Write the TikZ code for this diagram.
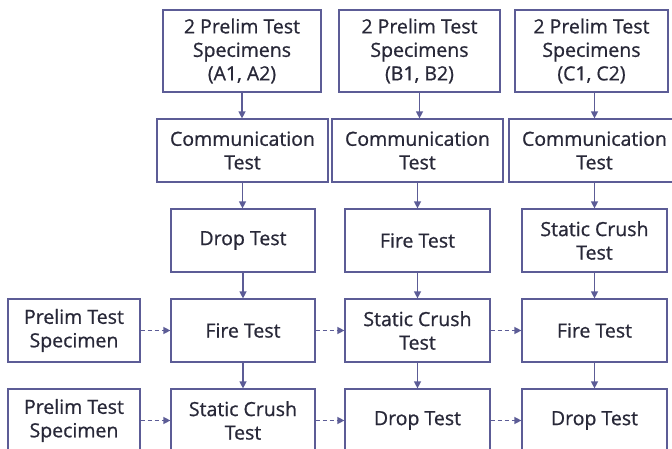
\documentclass[tikz,border=0pt]{standalone}
\usepackage{fontspec}
\setmainfont{Open Sans}
\newfontfamily\boxfont{Open Sans}[FakeBold=0.8]
\usetikzlibrary{arrows.meta}
\definecolor{bordc}{RGB}{92,92,150}
\definecolor{txtc}{RGB}{40,40,56}
\tikzset{
  box/.style={draw=bordc, line width=1.2pt, rectangle, inner sep=0pt, align=center,
    text=txtc, font=\boxfont\fontsize{19.5}{23.5}\selectfont},
  flow/.style={draw=bordc, line width=1.3pt, -{Triangle[length=7pt,width=7pt]}},
  dflow/.style={flow, dash pattern=on 4pt off 3pt}
}
\begin{document}
\begin{tikzpicture}[x=1pt,y=-1pt]
\useasboundingbox (0,0) rectangle (672,449);
\clip (0,0) rectangle (672,449);
% row 1
\node[box, minimum width=158pt, minimum height=82pt] (a1) at (242,51) {2 Prelim Test\\Specimens\\(A1, A2)};
\node[box, minimum width=161pt, minimum height=82pt] (b1) at (419.5,51) {2 Prelim Test\\Specimens\\(B1, B2)};
\node[box, minimum width=153pt, minimum height=82pt] (c1) at (591.5,51) {2 Prelim Test\\Specimens\\(C1, C2)};
% row 2
\node[box, minimum width=171pt, minimum height=63pt] (a2) at (242.5,150.5) {Communication\\Test};
\node[box, minimum width=171pt, minimum height=63pt] (b2) at (417.5,150.5) {Communication\\Test};
\node[box, minimum width=171pt, minimum height=63pt] (c2) at (594.5,150.5) {Communication\\Test};
% row 3
\node[box, minimum width=144pt, minimum height=63pt] (a3) at (243,240.5) {Drop Test};
\node[box, minimum width=145pt, minimum height=63pt] (b3) at (417.5,240.5) {Fire Test};
\node[box, minimum width=145pt, minimum height=63pt] (c3) at (594.5,240.5) {Static Crush\\Test};
% row 4
\node[box, minimum width=132pt, minimum height=63pt] (p4) at (74,330.5) {Prelim Test\\Specimen};
\node[box, minimum width=144pt, minimum height=63pt] (a4) at (243,330.5) {Fire Test};
\node[box, minimum width=145pt, minimum height=63pt] (b4) at (417.5,330.5) {Static Crush\\Test};
\node[box, minimum width=145pt, minimum height=63pt] (c4) at (594.5,330.5) {Fire Test};
% row 5
\node[box, minimum width=132pt, minimum height=63pt] (p5) at (74,420.5) {Prelim Test\\Specimen};
\node[box, minimum width=144pt, minimum height=63pt] (a5) at (243,420.5) {Static Crush\\Test};
\node[box, minimum width=145pt, minimum height=63pt] (b5) at (417.5,420.5) {Drop Test};
\node[box, minimum width=145pt, minimum height=63pt] (c5) at (594.5,420.5) {Drop Test};
% vertical arrows
\draw[flow] (a1.south) -- (a1.south |- a2.north);
\draw[flow] (b1.south) -- (b1.south |- b2.north);
\draw[flow] (c1.south -| c2.north) -- (c2.north);
\draw[flow] (a2.south) -- (a2.south |- a3.north);
\draw[flow] (b2.south) -- (b2.south |- b3.north);
\draw[flow] (c2.south) -- (c2.south |- c3.north);
\draw[flow] (a3.south) -- (a4.north);
\draw[flow] (b3.south) -- (b4.north);
\draw[flow] (c3.south) -- (c4.north);
\draw[flow] (a4.south) -- (a5.north);
\draw[flow] (b4.south) -- (b5.north);
\draw[flow] (c4.south) -- (c5.north);
% dashed arrows
\draw[dflow] (p4.east) -- (a4.west);
\draw[dflow] (a4.east) -- (b4.west);
\draw[dflow] (b4.east) -- (c4.west);
\draw[dflow] (p5.east) -- (a5.west);
\draw[dflow] (a5.east) -- (b5.west);
\draw[dflow] (b5.east) -- (c5.west);
\end{tikzpicture}
\end{document}
